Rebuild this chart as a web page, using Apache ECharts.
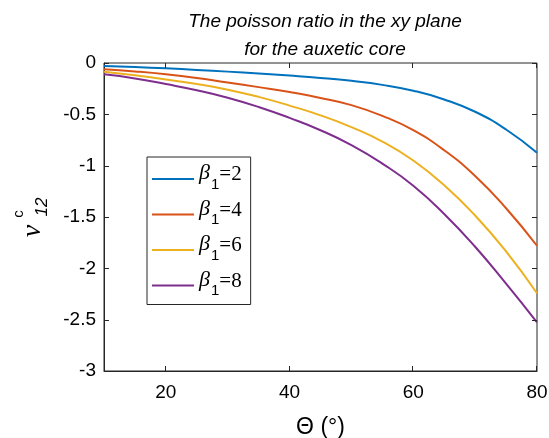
<!DOCTYPE html>
<html>
<head>
<meta charset="utf-8">
<script src="https://cdn.jsdelivr.net/npm/echarts@6/dist/echarts.min.js"></script>
<style>
  html, body { margin: 0; padding: 0; background: #fff; }
  #chart { width: 549px; height: 438px; }
</style>
</head>
<body>
<div id="chart"></div>
<script>
// Angle Θ in degrees
const theta = [10, 15, 20, 25, 30, 35, 40, 45, 50, 55, 60, 65, 70, 75, 80];

// Poisson ratio ν12 for each β1
const beta2 = [-0.03, -0.04, -0.052, -0.067, -0.084, -0.102, -0.122, -0.145, -0.174, -0.213, -0.27, -0.355, -0.475, -0.648, -0.874];
const beta4 = [-0.06, -0.082, -0.11, -0.146, -0.19, -0.235, -0.283, -0.34, -0.41, -0.515, -0.655, -0.85, -1.10, -1.415, -1.78];
const beta6 = [-0.085, -0.12, -0.16, -0.205, -0.26, -0.33, -0.415, -0.51, -0.625, -0.765, -0.95, -1.19, -1.485, -1.835, -2.243];
const beta8 = [-0.11, -0.15, -0.205, -0.265, -0.338, -0.428, -0.535, -0.655, -0.80, -0.98, -1.195, -1.47, -1.79, -2.15, -2.526];

const seriesNames = ['β1=2', 'β1=4', 'β1=6', 'β1=8'];
const seriesData = [beta2, beta4, beta6, beta8];
const colors = ['#0072BD', '#D95319', '#EDB120', '#7E2F8E'];

const xTickValues = [20, 40, 60, 80];
const yTickValues = [0, -0.5, -1, -1.5, -2, -2.5, -3];

const xRange = [10, 80];
const yRange = [-3, 0];

const sans = '"Liberation Sans", Arial, sans-serif';
const serif = '"Liberation Serif", "Times New Roman", serif';
const ink = '#262626';
const tickLen = 5;
const gridBox = { left: 104, right: 12, top: 63, bottom: 67 };

const chart = echarts.init(document.getElementById('chart'), null, { renderer: 'canvas' });

const pairs = d => theta.map((t, i) => [t, d[i]]);

// y-axis label: ν with superscript c and subscript 12, reading upward
const yNameLabel = {
  type: 'group',
  x: 33,
  y: 231,
  rotation: Math.PI / 2,
  children: [
    {
      type: 'text', x: 0, y: 0,
      style: {
        text: 'ν', fontFamily: serif, fontStyle: 'italic', fontSize: 28,
        fill: '#000', align: 'center', verticalAlign: 'middle'
      }
    },
    {
      type: 'text', x: 17, y: -14,
      style: {
        text: 'c', fontFamily: sans, fontSize: 15,
        fill: '#000', align: 'center', verticalAlign: 'middle'
      }
    },
    {
      type: 'text', x: 24, y: 9,
      style: {
        text: '12', fontFamily: sans, fontStyle: 'italic', fontSize: 17,
        fill: '#000', align: 'center', verticalAlign: 'middle'
      }
    }
  ]
};

chart.setOption({
  animation: false,
  backgroundColor: '#fff',
  color: colors,
  title: {
    text: 'The poisson ratio in the xy plane\nfor the auxetic core',
    left: 320,
    textAlign: 'center',
    top: 3,
    textStyle: {
      fontFamily: sans,
      fontStyle: 'italic',
      fontWeight: 'normal',
      fontSize: 19,
      lineHeight: 28,
      color: '#000'
    }
  },
  grid: Object.assign({}, gridBox, {
    outerBoundsMode: 'none',
    show: true, borderColor: ink, borderWidth: 1, backgroundColor: 'transparent'
  }),
  legend: {
    orient: 'vertical',
    left: 147,
    top: 157,
    padding: [5.5, 9, 6, 5],
    itemWidth: 42,
    itemHeight: 2,
    itemGap: 6,
    icon: 'rect',
    borderColor: ink,
    borderWidth: 1,
    backgroundColor: '#fff',
    data: seriesNames,
    formatter: name => '{b|β}{s|' + name.slice(1, 2) + '}{e|' + name.slice(2) + '}',
    textStyle: {
      rich: {
        b: { fontFamily: serif, fontStyle: 'italic', fontSize: 22, color: '#000', height: 26, verticalAlign: 'top', padding: [0, 0, 0, 0] },
        s: { fontFamily: sans, fontSize: 15, color: '#000', height: 26, verticalAlign: 'top', padding: [11, 0, 0, 1] },
        e: { fontFamily: serif, fontSize: 21, color: '#000', height: 26, verticalAlign: 'top', padding: [1, 0, 0, 0] }
      }
    }
  },
  xAxis: {
    type: 'value', min: xRange[0], max: xRange[1], splitNumber: 4,
    position: 'bottom',
    name: 'Θ (°)',
    nameLocation: 'middle',
    nameGap: 45,
    nameTextStyle: { fontFamily: sans, fontSize: 23, color: '#000' },
    axisLine: { show: true, onZero: false, lineStyle: { color: ink, width: 1 } },
    axisTick: { show: false },
    axisLabel: {
      fontFamily: sans, fontSize: 19, color: '#000', margin: 12,
      customValues: xTickValues
    },
    splitLine: { show: false }
  },
  yAxis: {
    type: 'value', min: yRange[0], max: yRange[1], interval: 0.5,
    position: 'left',
    axisLine: { show: true, onZero: false, lineStyle: { color: ink, width: 1 } },
    axisTick: { show: false },
    axisLabel: { fontFamily: sans, fontSize: 19, color: '#000', margin: 8 },
    splitLine: { show: false }
  },
  series: seriesNames.map((name, i) => ({
    name: name,
    type: 'line',
    data: pairs(seriesData[i]),
    smooth: 0.5,
    symbol: 'none',
    lineStyle: { width: 2, color: colors[i] },
    itemStyle: { color: colors[i] }
  }))
});

// Inward tick marks on all four sides of the box, as thin filled bars
function buildTicks() {
  const W = chart.getWidth();
  const H = chart.getHeight();
  const plotL = gridBox.left, plotR = W - gridBox.right;
  const plotT = gridBox.top, plotB = H - gridBox.bottom;
  // value -> pixel through the grid's coordinate system, with a linear fallback
  const toPx = (xv, yv) => {
    let p = null;
    try { p = chart.convertToPixel({ gridIndex: 0 }, [xv, yv]); } catch (e) { p = null; }
    if (!p || !isFinite(p[0]) || !isFinite(p[1])) {
      p = [
        plotL + (xv - xRange[0]) / (xRange[1] - xRange[0]) * (plotR - plotL),
        plotB - (yv - yRange[0]) / (yRange[1] - yRange[0]) * (plotB - plotT)
      ];
    }
    return p;
  };
  const bar = (x, y, w, h) => ({
    type: 'rect',
    silent: true,
    z: 100,
    shape: { x: x, y: y, width: w, height: h },
    style: { fill: ink, stroke: null }
  });
  const out = [];
  xTickValues.forEach(v => {
    const pb = toPx(v, yRange[0]);
    const pt = toPx(v, yRange[1]);
    const x = Math.round(pb[0]) - 1;
    out.push(bar(x, Math.round(pb[1]) - tickLen, 1, tickLen));
    out.push(bar(x, Math.round(pt[1]), 1, tickLen));
  });
  yTickValues.forEach(v => {
    const pl = toPx(xRange[0], v);
    const pr = toPx(xRange[1], v);
    const y = Math.round(pl[1]);
    out.push(bar(Math.round(pl[0]), y, tickLen, 1));
    out.push(bar(Math.round(pr[0]) - tickLen, y, tickLen, 1));
  });
  return out;
}

chart.setOption({ graphic: { elements: [yNameLabel].concat(buildTicks()) } });
</script>
</body>
</html>
